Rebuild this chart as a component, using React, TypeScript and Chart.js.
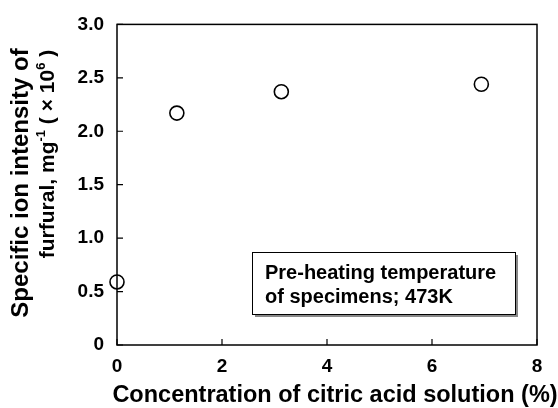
import React, { useEffect, useRef } from "react";
import { Chart, registerables } from "chart.js";

Chart.register(...registerables);

const concentration = [0, 1.14, 3.13, 6.94];
const intensity = [0.59, 2.17, 2.37, 2.44];
const xTicks = [0, 2, 4, 6, 8];
const yTicks = [0, 0.5, 1.0, 1.5, 2.0, 2.5, 3.0];
const xTitle = "Concentration of citric acid solution (%)";
const yTitleLine1 = "Specific ion intensity of";
// second line pieces: [text, superscript?]
const yTitleLine2: [string, boolean][] = [
  ["furfural, mg", false],
  ["-1", true],
  [" ( \u00D7 10", false],
  ["6", true],
  [" )", false],
];
const noteLines = ["Pre-heating temperature", "of specimens; 473K"];

const FONT = "'Liberation Sans', Arial, sans-serif";

const decorPlugin = {
  id: "decor",
  afterDraw(chart: any) {
    const ctx = chart.ctx;
    const { left, right, top, bottom } = chart.chartArea;
    const xs = chart.scales.x;
    const ys = chart.scales.y;
    ctx.save();
    ctx.strokeStyle = "#000";
    ctx.lineWidth = 1.5;
    ctx.strokeRect(left, top, right - left, bottom - top);
    ctx.lineWidth = 1.2;
    ctx.beginPath();
    for (const v of xTicks) {
      const px = xs.getPixelForValue(v);
      ctx.moveTo(px, bottom);
      ctx.lineTo(px, bottom - 6);
    }
    for (const v of yTicks) {
      const py = ys.getPixelForValue(v);
      ctx.moveTo(left, py);
      ctx.lineTo(left + 6, py);
    }
    ctx.stroke();

    // x title
    ctx.fillStyle = "#000";
    ctx.font = `bold 23.5px ${FONT}`;
    ctx.textAlign = "center";
    ctx.textBaseline = "middle";
    ctx.fillText(xTitle, 335, 396);

    // y title line 1
    ctx.save();
    ctx.translate(21, 183);
    ctx.rotate(-Math.PI / 2);
    ctx.font = `bold 24px ${FONT}`;
    ctx.fillText(yTitleLine1, 0, 0);
    ctx.restore();

    // y title line 2 with superscripts
    ctx.save();
    ctx.translate(48, 154);
    ctx.rotate(-Math.PI / 2);
    const big = `bold 21px ${FONT}`;
    const small = `bold 13px ${FONT}`;
    let total = 0;
    for (const [t, sup] of yTitleLine2) {
      ctx.font = sup ? small : big;
      total += ctx.measureText(t).width;
    }
    let cx = -total / 2;
    ctx.textAlign = "left";
    for (const [t, sup] of yTitleLine2) {
      ctx.font = sup ? small : big;
      ctx.fillText(t, cx, sup ? -7 : 0);
      cx += ctx.measureText(t).width;
    }
    ctx.restore();

    // note box
    const bx = 252, by = 252, bw = 263, bh = 62;
    ctx.fillStyle = "#888";
    ctx.fillRect(bx + 3, by + 3, bw, bh);
    ctx.fillStyle = "#fff";
    ctx.fillRect(bx, by, bw, bh);
    ctx.lineWidth = 1;
    ctx.strokeStyle = "#000";
    ctx.strokeRect(bx + 0.5, by + 0.5, bw, bh);
    ctx.fillStyle = "#000";
    ctx.font = `bold 20px ${FONT}`;
    ctx.textAlign = "left";
    ctx.textBaseline = "alphabetic";
    ctx.fillText(noteLines[0], 265, 279);
    ctx.fillText(noteLines[1], 265, 303);
    ctx.restore();
  },
};

export default function App() {
  const ref = useRef<HTMLCanvasElement>(null);
  useEffect(() => {
    document.body.style.margin = "0";
    const chart = new Chart(ref.current!, {
      type: "scatter",
      data: {
        datasets: [
          {
            data: concentration.map((x, i) => ({ x, y: intensity[i] })),
            pointStyle: "circle",
            pointRadius: 7,
            pointBorderWidth: 1.6,
            pointBackgroundColor: "#fff",
            pointBorderColor: "#000",
            clip: false as any,
          },
        ],
      },
      options: {
        animation: false,
        responsive: false,
        layout: { padding: { left: 0, right: 21, top: 19, bottom: 0 } },
        plugins: { legend: { display: false }, tooltip: { enabled: false } },
        scales: {
          x: {
            type: "linear",
            min: 0,
            max: 8,
            grid: { display: false, drawTicks: false },
            border: { display: false },
            afterBuildTicks: (s: any) => {
              s.ticks = xTicks.map((v) => ({ value: v }));
            },
            afterFit: (s: any) => {
              s.height = 63;
            },
            ticks: {
              padding: 10,
              color: "#000",
              font: { family: FONT, size: 19, weight: "bold" },
              maxRotation: 0,
              callback: (v: any) => String(v),
            },
          },
          y: {
            type: "linear",
            min: 0,
            max: 3,
            grid: { display: false, drawTicks: false },
            border: { display: false },
            afterBuildTicks: (s: any) => {
              s.ticks = yTicks.map((v) => ({ value: v }));
            },
            afterFit: (s: any) => {
              s.width = 117;
            },
            ticks: {
              padding: 13,
              color: "#000",
              font: { family: FONT, size: 19, weight: "bold" },
              callback: (v: any) => (v === 0 ? "0" : Number(v).toFixed(1)),
            },
          },
        },
      },
      plugins: [decorPlugin],
    });
    return () => chart.destroy();
  }, []);
  return <canvas ref={ref} width={558} height={408} style={{ display: "block" }} />;
}
